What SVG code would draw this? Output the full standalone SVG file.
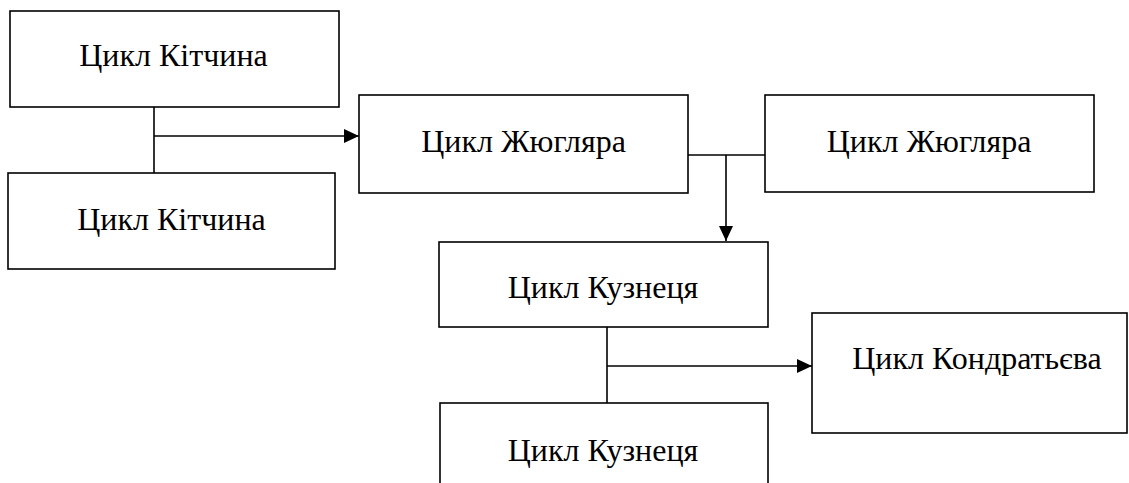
<svg xmlns="http://www.w3.org/2000/svg" width="1129" height="483" viewBox="0 0 1129 483">
<defs>
<style>
.box{fill:#fff;stroke:#000;stroke-width:1.6}
.lbl{font-family:"Liberation Serif","Times New Roman",serif;font-size:32px;fill:#000;text-anchor:middle}
.ln{fill:none;stroke:#000;stroke-width:1.6}
</style>
<marker id="ah" viewBox="0 0 10 10" refX="10" refY="5" markerWidth="15" markerHeight="14" markerUnits="userSpaceOnUse" orient="auto" preserveAspectRatio="none">
<path d="M0,0 L10,5 L0,10 z" fill="#000"/>
</marker>
</defs>
<g id="connectors">
<path class="ln" d="M154,107 V173"/>
<path class="ln" d="M154,136 H359" marker-end="url(#ah)"/>
<path class="ln" d="M688,155 H765"/>
<path class="ln" d="M726,155 V241" marker-end="url(#ah)"/>
<path class="ln" d="M607,327 V403"/>
<path class="ln" d="M607,366 H812" marker-end="url(#ah)"/>
</g>
<g id="n1"><rect class="box" x="10" y="11" width="329" height="96"/><text class="lbl" x="173.5" y="66">Цикл Кітчина</text></g>
<g id="n2"><rect class="box" x="8" y="173" width="327" height="96"/><text class="lbl" x="171.5" y="230">Цикл Кітчина</text></g>
<g id="n3"><rect class="box" x="359" y="95" width="329" height="98"/><text class="lbl" x="523.5" y="152">Цикл Жюгляра</text></g>
<g id="n4"><rect class="box" x="765" y="95" width="329" height="97"/><text class="lbl" x="929" y="152">Цикл Жюгляра</text></g>
<g id="n5"><rect class="box" x="439" y="242" width="329" height="85"/><text class="lbl" x="603" y="298">Цикл Кузнеця</text></g>
<g id="n6"><rect class="box" x="440" y="403" width="328" height="90"/><text class="lbl" x="603" y="461">Цикл Кузнеця</text></g>
<g id="n7"><rect class="box" x="812" y="313" width="315" height="120"/><text class="lbl" x="977" y="369">Цикл Кондратьєва</text></g>
</svg>
